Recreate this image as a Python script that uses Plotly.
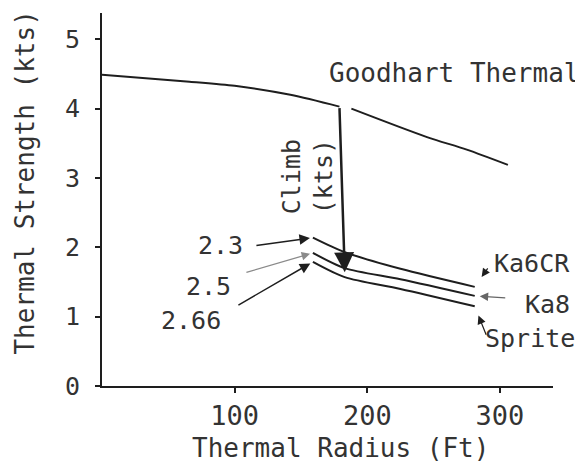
import plotly.graph_objects as go

# ---- data ----
goodhart_x = [0, 66, 100, 142, 179, None, 188, 245, 275, 306]
goodhart_y = [4.49, 4.39, 4.33, 4.20, 4.03, None, 4.00, 3.59, 3.41, 3.19]

ka6cr_x = [159, 183, 225, 281]
ka6cr_y = [2.14, 1.93, 1.69, 1.43]

ka8_x = [159, 183, 225, 281]
ka8_y = [1.92, 1.70, 1.54, 1.30]

sprite_x = [159, 183, 225, 281]
sprite_y = [1.79, 1.57, 1.40, 1.15]

x_ticks = [100, 200, 300]
y_ticks = [0, 1, 2, 3, 4, 5]

climb_tail = (179, 4.03)
climb_tip = (183, 1.64)

FONT = "DejaVu Sans Mono"
INK = "#1e1e1e"
TXT = "#333333"

fig = go.Figure()
for xs, ys in [(goodhart_x, goodhart_y), (ka6cr_x, ka6cr_y), (ka8_x, ka8_y), (sprite_x, sprite_y)]:
    fig.add_trace(go.Scatter(x=xs, y=ys, mode="lines",
                             line=dict(color=INK, width=2, shape="spline", smoothing=0.8),
                             connectgaps=False, showlegend=False, hoverinfo="skip"))

ann = []
# climb arrow
ann.append(dict(x=climb_tip[0], y=climb_tip[1], ax=climb_tail[0], ay=climb_tail[1],
                xref="x", yref="y", axref="x", ayref="y", text="", showarrow=True,
                arrowhead=2, arrowsize=1.6, arrowwidth=2.5, arrowcolor=INK))

def label(text, x, y, size=25, ref=("x", "y"), **kw):
    d = dict(x=x, y=y, xref=ref[0], yref=ref[1], text=text, showarrow=False,
             xanchor="center", yanchor="middle",
             font=dict(family=FONT, size=size, color=TXT))
    d.update(kw)
    ann.append(d)

def pointer(x, y, ax, ay, color=INK, width=1.5, standoff=3):
    ann.append(dict(x=x, y=y, xref="x", yref="y", ax=ax, ay=ay, text="", showarrow=True,
                    arrowhead=2, arrowsize=1.4, arrowwidth=width, arrowcolor=color,
                    standoff=standoff))

label("Goodhart Thermal", 265, 4.52, size=26)
label("Climb<br>(kts)", 155, 3.02, textangle=-90)
label("2.3", 89, 2.03)
label("2.5", 80, 1.43)
label("2.66", 67, 0.95)
label("Ka6CR", 324, 1.77)
label("Ka8", 336, 1.18)
label("Sprite", 323, 0.69)
# axis titles (paper coordinates)
label("Thermal Strength (kts)", -0.171, 0.545, size=26, ref=("paper", "paper"), textangle=-90)
label("Thermal Radius (Ft)", 0.529, -0.165, size=26, ref=("paper", "paper"))

pointer(ka6cr_x[0], ka6cr_y[0], -58, 8)
pointer(ka8_x[0], ka8_y[0], -68, 20, color="#8a8a8a", width=1.2)
pointer(sprite_x[0], sprite_y[0], -76, 44)
pointer(ka6cr_x[-1], ka6cr_y[-1], 14, -20, width=1.2, standoff=12)
pointer(ka8_x[-1], ka8_y[-1], 32, 2, color="#666666", width=1.2, standoff=5)
pointer(sprite_x[-1], sprite_y[-1], 12, 30, width=1.2, standoff=10)

# page body has an 8px margin -> compensate
fig.update_layout(
    width=575, height=454,
    margin=dict(l=94, r=30, t=5, b=76),
    paper_bgcolor="white", plot_bgcolor="white",
    annotations=ann,
    font=dict(family=FONT, size=25, color=TXT),
    xaxis=dict(range=[0, 340], tickvals=x_ticks, ticktext=[str(v) for v in x_ticks],
               showgrid=False, zeroline=False, showline=True, linecolor=INK, linewidth=2,
               ticks="outside", ticklen=5, tickwidth=2, tickcolor=INK,
               tickfont=dict(family=FONT, size=27, color=TXT)),
    yaxis=dict(range=[0, 5.38], tickvals=y_ticks, ticktext=[str(v) for v in y_ticks],
               showgrid=False, zeroline=False, showline=True, linecolor=INK, linewidth=2,
               ticks="outside", ticklen=5, tickwidth=2, tickcolor=INK,
               tickfont=dict(family=FONT, size=25, color=TXT),
               ticklabelstandoff=10),
)

fig.write_html("out.html")
